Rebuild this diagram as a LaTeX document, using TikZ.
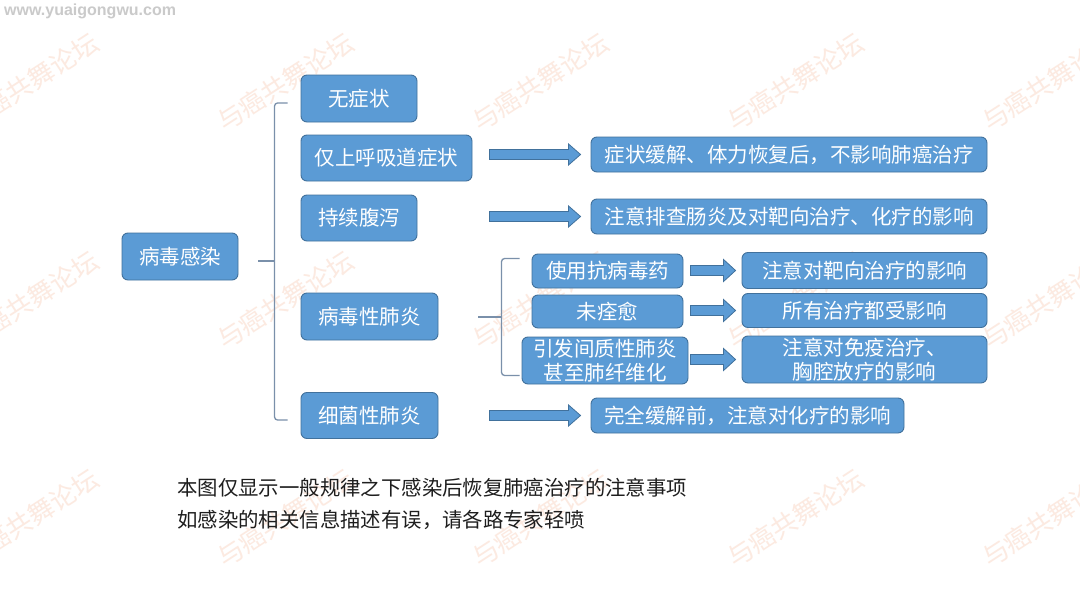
\documentclass[tikz,border=0pt]{standalone}
\usepackage{fontspec}
\setmainfont{Noto Sans CJK SC}
\newfontfamily\urlfont{Liberation Sans}
\usetikzlibrary{calc}
\definecolor{boxfill}{HTML}{5B9BD5}
\definecolor{boxline}{HTML}{41719C}
\definecolor{brackc}{HTML}{7A90AA}
\definecolor{wmark}{RGB}{252,234,225}
\definecolor{urlc}{HTML}{CACACA}
\definecolor{notec}{HTML}{1E1E1E}
% block arrow ending #2 pt before node #1 (west), length #3
\newcommand\blkarrow[6]{%
  \path[barrow] let \p2=($(#1.west)+(-#2,0)$) in
    (\x2-#3,\y2+#4) -- (\x2-#6,\y2+#4) -- (\x2-#6,\y2+#5) -- (\x2,\y2)
    -- (\x2-#6,\y2-#5) -- (\x2-#6,\y2-#4) -- (\x2-#3,\y2-#4) -- cycle;}
\begin{document}
\begin{tikzpicture}[x=1pt,y=-1pt,
  box/.style={draw=boxline, fill=boxfill, line width=0.9pt, rounded corners=6pt,
    text=white, font=\fontsize{20.5}{23.5}\selectfont, inner sep=0pt, align=center},
  brack/.style={draw=brackc, line width=1.3pt, rounded corners=3pt},
  barrow/.style={draw=boxline, fill=boxfill, line width=0.8pt, line join=miter},
  wm/.style={text=wmark, rotate=33, font=\fontsize{26}{26}\selectfont},
  note/.style={anchor=west, text=notec, inner sep=0pt, font=\fontsize{20.4}{24}\selectfont}]
\useasboundingbox (0,0) rectangle (1080,608);
\fill[white] (0,0) rectangle (1080,608);
% watermarks
\foreach \wx in {30,285,540,795,1050}{
  \foreach \wy in {82,300,518}{
    \node[wm] at (\wx,\wy) {与癌共舞论坛};
  }
}
\node[anchor=west, text=urlc, inner sep=0pt, font=\urlfont\bfseries\fontsize{16}{16}\selectfont] (url) at (4,11) {www.yuaigongwu.com};
% root
\node[box, minimum width=116pt, minimum height=47pt] (root) at (180,256.5) {病毒感染};
% first level
\node[box, minimum width=116pt, minimum height=47pt] (a1) at (359,98.5) {无症状};
\node[box, minimum width=171pt, minimum height=46pt] (a2) at (386.5,158) {仅上呼吸道症状};
\node[box, minimum width=116pt, minimum height=46pt] (a3) at (359,218) {持续腹泻};
\node[box, minimum width=137pt, minimum height=47pt] (a4) at (369.5,316.5) {病毒性肺炎};
\node[box, minimum width=137pt, minimum height=46pt] (a5) at (369.5,415.5) {细菌性肺炎};
% results of first level
\node[box, minimum width=396pt, minimum height=35pt] (d1) at (789,154.5) {症状缓解、体力恢复后，不影响肺癌治疗};
\node[box, minimum width=396pt, minimum height=35pt] (d2) at (789,216.5) {注意排查肠炎及对靶向治疗、化疗的影响};
\node[box, minimum width=313pt, minimum height=35pt] (d3) at (747.5,415.5) {完全缓解前，注意对化疗的影响};
% second level
\node[box, minimum width=151pt, minimum height=34pt] (b1) at (607.5,271) {使用抗病毒药};
\node[box, minimum width=151pt, minimum height=33pt] (b2) at (607.5,311.5) {未痊愈};
\node[box, minimum width=166pt, minimum height=47pt] (b3) at (605,360.5) {引发间质性肺炎\\甚至肺纤维化};
\node[box, minimum width=245pt, minimum height=36pt] (c1) at (864.5,270.5) {注意对靶向治疗的影响};
\node[box, minimum width=245pt, minimum height=34pt] (c2) at (864.5,310.5) {所有治疗都受影响};
\node[box, minimum width=245pt, minimum height=47pt] (c3) at (864.5,359.5) {注意对免疫治疗、\\胸腔放疗的影响};
% brackets
\draw[brack] ($(a1.west)+(-13,4.5)$) -- ($(a1.west)+(-26,4.5)$)
  -- ($(a5.west)+(-26,4.5)$) -- ($(a5.west)+(-13,4.5)$);
\draw[brack] ($(root.east)+(20,4.5)$) -- ($(root.east)+(37,4.5)$);
\draw[brack] ($(b1.north west)+(-12,5)$) -- ($(b1.north west)+(-30,5)$)
  -- ($(b3.south west)+(-20,-9)$) -- ($(b3.south west)+(-2,-9)$);
\draw[brack] ($(a4.east)+(40,0.5)$) -- ($(a4.east)+(64,0.5)$);
% arrows
\blkarrow{d1}{10}{91}{5}{10.5}{12}
\blkarrow{d2}{10}{91}{5}{10.5}{12}
\blkarrow{d3}{10}{91}{5}{10.5}{12}
\blkarrow{c1}{6}{45}{5}{11}{12}
\blkarrow{c2}{6}{45}{5}{11}{12}
\blkarrow{c3}{6}{45}{5}{11}{12}
% notes
\node[note] (n1) at (177,488) {本图仅显示一般规律之下感染后恢复肺癌治疗的注意事项};
\node[note] (n2) at (177,520) {如感染的相关信息描述有误，请各路专家轻喷};
\end{tikzpicture}
\end{document}
